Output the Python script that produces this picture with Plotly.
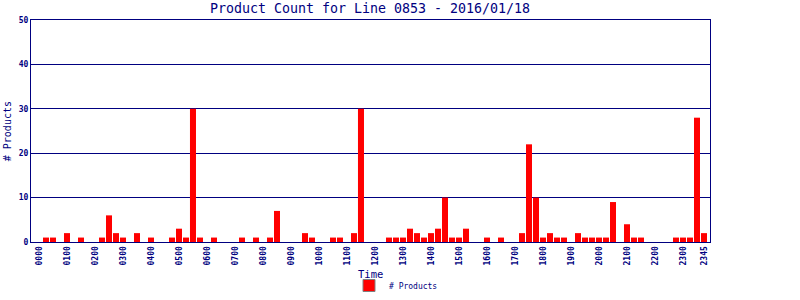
import plotly.graph_objects as go

# 15-minute time slots (categories)
time_slots = [f"{h:02d}{m:02d}" for h in range(24) for m in (0, 15, 30, 45)]

# Product counts per slot
product_counts = [
    0, 1, 1, 0, 2, 0, 1, 0, 0, 1, 6, 2,
    1, 0, 2, 0, 1, 0, 0, 1, 3, 1, 30, 1,
    0, 1, 0, 0, 0, 1, 0, 1, 0, 1, 7, 0,
    0, 0, 2, 1, 0, 0, 1, 1, 0, 2, 30, 0,
    0, 0, 1, 1, 1, 3, 2, 1, 2, 3, 10, 1,
    1, 3, 0, 0, 1, 0, 1, 0, 0, 2, 22, 10,
    1, 2, 1, 1, 0, 2, 1, 1, 1, 1, 9, 0,
    4, 1, 1, 0, 0, 0, 0, 1, 1, 1, 28, 2,
]

tick_labels = ["0000", "0100", "0200", "0300", "0400", "0500", "0600", "0700",
               "0800", "0900", "1000", "1100", "1200", "1300", "1400", "1500",
               "1600", "1700", "1800", "1900", "2000", "2100", "2200", "2300",
               "2345"]

NAVY = "#000080"
MONO = "DejaVu Sans Mono"

fig = go.Figure()
fig.add_trace(go.Bar(
    x=time_slots, y=product_counts, name="# Products",
    marker=dict(color="#ff0000", line=dict(width=0)),
    showlegend=False,
))
# legend entry (gray-bordered swatch)
fig.add_trace(go.Bar(
    x=[None], y=[None], name="# Products",
    marker=dict(color="#ff0000", line=dict(color="#808080", width=1)),
    showlegend=True,
))

fig.update_layout(
    width=800, height=300,
    margin=dict(l=31, r=90, t=20, b=58),
    paper_bgcolor="white", plot_bgcolor="white",
    bargap=0.14,
    title=dict(text="Product Count for Line 0853 - 2016/01/18",
               font=dict(family=MONO, size=13.3, color=NAVY),
               x=0.4625, xanchor="center", y=0.972, yanchor="middle"),
    showlegend=True,
    legend=dict(orientation="h", x=0.495, xref="container", xanchor="center",
                y=0.0, yref="container", yanchor="bottom",
                font=dict(family=MONO, size=8, color=NAVY),
                itemwidth=30, tracegroupgap=0,
                bgcolor="rgba(0,0,0,0)"),
    xaxis=dict(
        type="category", automargin=False,
        categoryorder="array", categoryarray=time_slots,
        range=[-1.14, 95.86],
        tickmode="array", tickvals=tick_labels, ticktext=tick_labels,
        tickangle=-90,
        tickfont=dict(family=MONO, size=8, color=NAVY, weight="bold"),
        ticks="", showgrid=False,
        showline=True, linecolor=NAVY, linewidth=1, mirror=True,
    ),
    yaxis=dict(
        automargin=False,
        range=[0, 50], tickmode="array", tickvals=[0, 10, 20, 30, 40, 50],
        tickfont=dict(family=MONO, size=8, color=NAVY, weight="bold"),
        ticks="", ticklen=0,
        showgrid=True, gridcolor=NAVY, gridwidth=1,
        zeroline=False,
        showline=True, linecolor=NAVY, linewidth=1, mirror=True,
    ),
    annotations=[
        dict(text="Time", xref="paper", yref="paper", x=0.5, y=-0.143,
             xanchor="center", yanchor="middle", showarrow=False,
             font=dict(family=MONO, size=10.5, color=NAVY)),
        dict(text="# Products", xref="paper", yref="paper", x=-0.035, y=0.5,
             xanchor="center", yanchor="middle", showarrow=False, textangle=-90,
             font=dict(family=MONO, size=10, color=NAVY)),
    ],
)

fig.write_html("out.html")
